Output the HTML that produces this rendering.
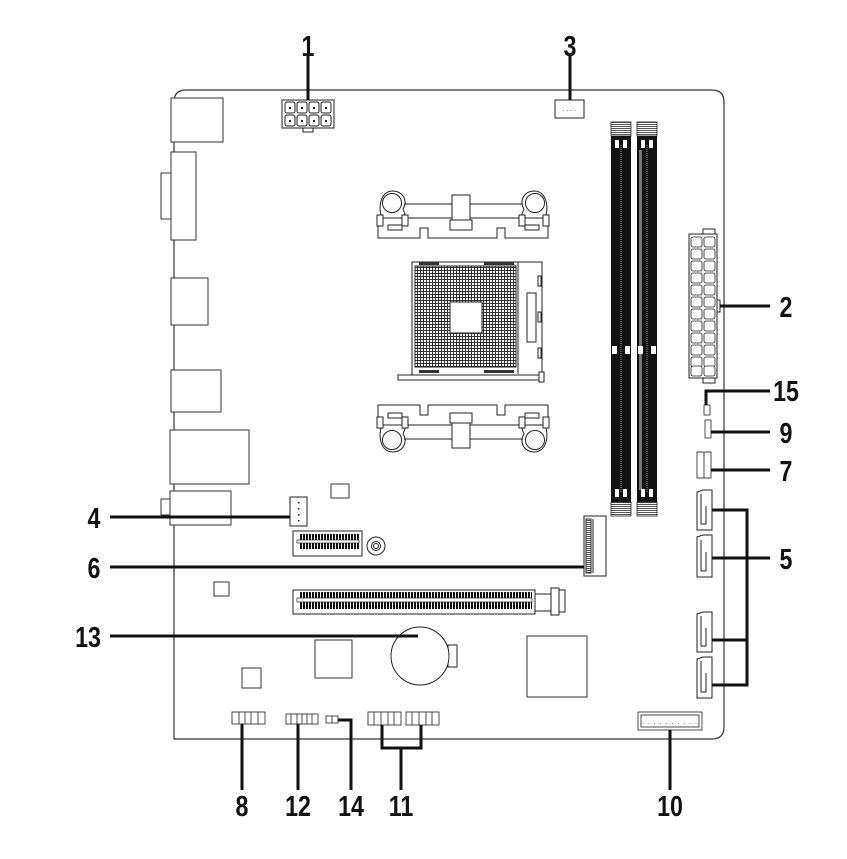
<!DOCTYPE html>
<html><head><meta charset="utf-8"><style>
html,body{margin:0;padding:0;background:#fff;}
svg{display:block}
.lb{font-family:"Liberation Sans",sans-serif;font-weight:bold;font-size:29px;fill:#111;}
</style></head><body>
<svg width="847" height="859" viewBox="0 0 847 859" xmlns="http://www.w3.org/2000/svg">
<defs>
<pattern id="grid" width="3" height="3" patternUnits="userSpaceOnUse">
<rect width="3" height="3" fill="#fff"/><rect width="3" height="0.9" fill="#222"/><rect width="0.9" height="3" fill="#222"/>
</pattern>
<pattern id="pins" width="3" height="4" patternUnits="userSpaceOnUse">
<rect width="3" height="4" fill="#fff"/><rect width="2" height="4" fill="#111"/>
</pattern>
<pattern id="hatch" width="3" height="2" patternUnits="userSpaceOnUse">
<rect width="3" height="2" fill="#fff"/><rect width="3" height="1" fill="#555"/>
</pattern>
<g id="bracket" fill="#fff" stroke="#222" stroke-width="1">
<path d="M378,238 V218 H548 V238 H505 V228 H497 V238 H428 V228 H420 V238 Z"/>
<path d="M382,218 C378,208 380,192 392,191 C404,191 408,202 403,209 L405,214 L402,218 Z"/>
<path d="M545,218 C549,208 547,192 535,191 C523,191 519,202 524,209 L522,214 L525,218 Z"/>
<circle cx="392" cy="203" r="9.5"/><circle cx="535" cy="203" r="9.5"/>
<line x1="404" y1="204" x2="523" y2="204"/>
<rect x="377" y="215" width="6" height="11"/><rect x="402" y="215" width="6" height="11"/>
<rect x="519" y="215" width="6" height="11"/><rect x="543" y="215" width="6" height="11"/>
<rect x="388" y="225" width="14" height="5"/><rect x="525" y="225" width="14" height="5"/>
<rect x="452" y="195" width="18" height="25"/>
<rect x="450" y="220" width="22" height="10"/>
</g>
</defs>

<!-- board outline -->
<path d="M174,739 V102 Q174,90 186,90 H712 Q724,90 724,102 V727 Q724,739 712,739 Z" fill="none" stroke="#333" stroke-width="1.2"/>

<g fill="#fff" stroke="#333" stroke-width="1">
<!-- IO -->
<rect x="171" y="98" width="52" height="44"/>
<rect x="161" y="173" width="10" height="46"/>
<rect x="171" y="152" width="25" height="88"/>
<rect x="171" y="278" width="37" height="47"/>
<rect x="171" y="370" width="50" height="42"/>
<rect x="170" y="430" width="79" height="54"/>
<rect x="161" y="499" width="10" height="16"/>
<rect x="170" y="491" width="61" height="34"/>
<!-- chips -->
<rect x="331" y="484" width="18" height="14"/>
<rect x="214" y="582" width="15" height="14"/>
<rect x="315" y="640" width="37" height="38"/>
<rect x="242" y="668" width="19" height="20"/>
<rect x="527" y="636" width="60" height="61"/>
</g>

<!-- 8 pin CPU power -->
<g stroke="#222" stroke-width="1" fill="#fff">
<rect x="282" y="100" width="52" height="28"/>
<rect x="303" y="128" width="10" height="4"/>
<g>
<rect x="285" y="102" width="10" height="11" rx="2"/><rect x="297" y="102" width="10" height="11" rx="2"/><rect x="309" y="102" width="10" height="11" rx="2"/><rect x="321" y="102" width="10" height="11" rx="2"/>
<rect x="285" y="115" width="10" height="11" rx="2"/><rect x="297" y="115" width="10" height="11" rx="2"/><rect x="309" y="115" width="10" height="11" rx="2"/><rect x="321" y="115" width="10" height="11" rx="2"/>
</g>
</g>
<g fill="#222"><rect x="289" y="107" width="2" height="2"/><rect x="301" y="107" width="2" height="2"/><rect x="313" y="107" width="2" height="2"/><rect x="325" y="107" width="2" height="2"/><rect x="289" y="120" width="2" height="2"/><rect x="301" y="120" width="2" height="2"/><rect x="313" y="120" width="2" height="2"/><rect x="325" y="120" width="2" height="2"/></g>

<!-- CPU fan -->
<rect x="555" y="100" width="29" height="18" fill="#fff" stroke="#222"/>
<text x="569" y="111" font-size="7" text-anchor="middle" fill="#222" font-family="Liberation Sans">. . . .</text>

<!-- brackets -->
<use href="#bracket"/>
<use href="#bracket" transform="translate(0,643) scale(1,-1)"/>

<!-- socket -->
<g stroke="#222" stroke-width="1">
<rect x="412" y="262" width="130" height="118" fill="#fff"/>
<line x1="518" y1="262" x2="518" y2="374"/>
<rect x="415" y="266" width="101" height="101" fill="url(#grid)"/>
<rect x="450" y="302" width="32" height="31" fill="#fff"/>
<rect x="527" y="293" width="9" height="49" fill="#fff"/>
<rect x="538" y="276" width="3" height="10" fill="#fff"/>
<rect x="538" y="312" width="3" height="10" fill="#fff"/>
<rect x="538" y="348" width="3" height="10" fill="#fff"/>
<rect x="398" y="375" width="144" height="5" fill="#fff"/>
<rect x="539" y="372" width="5" height="10" fill="#fff"/>
</g>
<g fill="#333"><rect x="419" y="262" width="20" height="3"/><rect x="484" y="262" width="30" height="3"/><rect x="419" y="370" width="20" height="3"/><rect x="484" y="370" width="30" height="3"/></g>

<!-- RAM -->
<g>
<rect x="611" y="122" width="20" height="14" fill="url(#hatch)" stroke="#222" stroke-width="0.8"/>
<rect x="637" y="122" width="20" height="14" fill="url(#hatch)" stroke="#222" stroke-width="0.8"/>
<rect x="611" y="502" width="20" height="14" fill="url(#hatch)" stroke="#222" stroke-width="0.8"/>
<rect x="637" y="502" width="20" height="14" fill="url(#hatch)" stroke="#222" stroke-width="0.8"/>
<rect x="611" y="136" width="20" height="366" fill="#111"/>
<rect x="637" y="136" width="20" height="366" fill="#111"/>
<line x1="621" y1="145" x2="621" y2="492" stroke="#888" stroke-width="1.2" stroke-dasharray="1,1"/>
<line x1="647" y1="145" x2="647" y2="492" stroke="#888" stroke-width="1.2" stroke-dasharray="1,1"/>
<rect x="639" y="150" width="3" height="340" fill="#777"/>
<g fill="#fff"><rect x="615" y="140" width="4" height="8"/><rect x="623" y="140" width="4" height="8"/><rect x="641" y="140" width="4" height="8"/><rect x="649" y="140" width="4" height="8"/>
<rect x="615" y="489" width="4" height="8"/><rect x="623" y="489" width="4" height="8"/><rect x="641" y="489" width="4" height="8"/><rect x="649" y="489" width="4" height="8"/>
<rect x="612" y="346" width="5" height="8"/><rect x="625" y="346" width="5" height="8"/><rect x="638" y="346" width="5" height="8"/><rect x="651" y="346" width="5" height="8"/></g>
</g>

<!-- 24 pin -->
<g stroke="#222" stroke-width="1" fill="#fff">
<rect x="703" y="229" width="12" height="5"/>
<rect x="703" y="377" width="12" height="6"/>
<rect x="689" y="234" width="28" height="144"/>
<rect x="717" y="300" width="3" height="12"/>
</g>
<g stroke="#222" stroke-width="0.8" fill="#fff" id="p24">
</g>
<g fill="#fff" stroke="#222" stroke-width="0.8">
<rect x="691" y="237" width="11" height="10" rx="2"/><rect x="704" y="237" width="11" height="10" rx="2"/>
<rect x="691" y="249" width="11" height="10" rx="2"/><rect x="704" y="249" width="11" height="10" rx="2"/>
<rect x="691" y="261" width="11" height="10" rx="2"/><rect x="704" y="261" width="11" height="10" rx="2"/>
<rect x="691" y="273" width="11" height="10" rx="2"/><rect x="704" y="273" width="11" height="10" rx="2"/>
<rect x="691" y="285" width="11" height="10" rx="2"/><rect x="704" y="285" width="11" height="10" rx="2"/>
<rect x="691" y="297" width="11" height="10" rx="2"/><rect x="704" y="297" width="11" height="10" rx="2"/>
<rect x="691" y="309" width="11" height="10" rx="2"/><rect x="704" y="309" width="11" height="10" rx="2"/>
<rect x="691" y="321" width="11" height="10" rx="2"/><rect x="704" y="321" width="11" height="10" rx="2"/>
<rect x="691" y="333" width="11" height="10" rx="2"/><rect x="704" y="333" width="11" height="10" rx="2"/>
<rect x="691" y="345" width="11" height="10" rx="2"/><rect x="704" y="345" width="11" height="10" rx="2"/>
<rect x="691" y="357" width="11" height="10" rx="2"/><rect x="704" y="357" width="11" height="10" rx="2"/>
<rect x="691" y="366" width="11" height="10" rx="2"/><rect x="704" y="366" width="11" height="10" rx="2"/>
</g>

<!-- small right headers -->
<g fill="#fff" stroke="#222" stroke-width="0.8">
<rect x="704" y="405" width="6" height="10"/>
<rect x="705" y="420" width="6" height="18"/>
<rect x="697" y="452" width="14" height="26"/>
<line x1="704" y1="452" x2="704" y2="478"/>
</g>

<!-- SATA -->
<g fill="#fff" stroke="#222" stroke-width="1">
<path d="M697,492 L703,490 H712 V530 H697 Z"/><path d="M701,494 V524 H706 V506"/>
<path d="M697,537 L703,535 H712 V577 H697 Z"/><path d="M701,540 V571 H706 V552"/>
<path d="M697,614 L703,612 H712 V652 H697 Z"/><path d="M701,616 V646 H706 V628"/>
<path d="M697,659 L703,657 H712 V698 H697 Z"/><path d="M701,661 V692 H706 V673"/>
</g>

<!-- M.2 -->
<g fill="#fff" stroke="#222" stroke-width="1">
<rect x="584" y="516" width="22" height="60"/>
<rect x="586" y="519" width="5" height="54" fill="url(#hatch)"/>
<line x1="593" y1="519" x2="593" y2="573"/>
</g>

<!-- CPU fan header left / sys fan -->
<rect x="290" y="497" width="17" height="29" fill="#fff" stroke="#222"/>
<g fill="#222"><rect x="298" y="502" width="1.5" height="1.5"/><rect x="298" y="508" width="1.5" height="1.5"/><rect x="298" y="514" width="1.5" height="1.5"/><rect x="298" y="520" width="1.5" height="1.5"/></g>

<!-- PCIe x1 -->
<rect x="293" y="531" width="69" height="25" fill="#fff" stroke="#222"/>
<rect x="300" y="534" width="60" height="15" fill="url(#pins)"/>
<rect x="297" y="540" width="62" height="3" fill="#fff" stroke="#222" stroke-width="0.7"/>
<circle cx="376" cy="546" r="9" fill="#fff" stroke="#222"/><circle cx="376" cy="546" r="4.5" fill="#fff" stroke="#222"/><circle cx="376" cy="546" r="2.5" fill="#fff" stroke="#222"/>

<!-- PCIe x16 -->
<rect x="293" y="590" width="242" height="24" fill="#fff" stroke="#222"/>
<rect x="300" y="592" width="232" height="17" fill="url(#pins)"/>
<rect x="297" y="598" width="235" height="4" fill="#fff" stroke="#222" stroke-width="0.7"/>
<g fill="#fff" stroke="#222" stroke-width="1">
<rect x="535" y="594" width="20" height="17"/>
<rect x="551" y="588" width="8" height="27"/>
<rect x="559" y="590" width="6" height="22"/>
</g>

<!-- battery -->
<rect x="448" y="645" width="9" height="22" fill="#fff" stroke="#222"/>
<circle cx="420" cy="656" r="29" fill="#fff" stroke="#222"/>

<!-- bottom headers -->
<g fill="#fff" stroke="#222" stroke-width="0.8">
<rect x="232" y="712" width="33" height="12"/>
<line x1="239" y1="712" x2="239" y2="724"/><line x1="245" y1="712" x2="245" y2="724"/><line x1="251" y1="712" x2="251" y2="724"/><line x1="258" y1="712" x2="258" y2="724"/>
<rect x="286" y="714" width="32" height="10"/>
<line x1="291" y1="714" x2="291" y2="724"/><line x1="297" y1="714" x2="297" y2="724"/><line x1="302" y1="714" x2="302" y2="724"/><line x1="307" y1="714" x2="307" y2="724"/><line x1="312" y1="714" x2="312" y2="724"/>
<rect x="326" y="716" width="12" height="7"/><line x1="332" y1="716" x2="332" y2="723"/>
<rect x="368" y="712" width="33" height="13"/>
<line x1="374" y1="712" x2="374" y2="725"/><line x1="381" y1="712" x2="381" y2="725"/><line x1="388" y1="712" x2="388" y2="725"/><line x1="394" y1="712" x2="394" y2="725"/>
<rect x="406" y="712" width="33" height="13"/>
<line x1="412" y1="712" x2="412" y2="725"/><line x1="419" y1="712" x2="419" y2="725"/><line x1="426" y1="712" x2="426" y2="725"/><line x1="432" y1="712" x2="432" y2="725"/>
<rect x="638" y="712" width="64" height="18"/>
<rect x="641" y="715" width="58" height="12"/>
</g>
<text x="670" y="724" font-size="7" text-anchor="middle" fill="#333" font-family="Liberation Sans" letter-spacing="1">. . . . . . . . . .</text>

<!-- leader lines -->
<g stroke="#111" stroke-width="3" fill="none">
<line x1="308" y1="56" x2="308" y2="100"/>
<line x1="570" y1="56" x2="570" y2="100"/>
<line x1="720" y1="306" x2="770" y2="306"/>
<polyline points="706,405 706,391 770,391"/>
<line x1="711" y1="432" x2="770" y2="432"/>
<line x1="711" y1="470" x2="770" y2="470"/>
<polyline points="712,510 747,510 747,685 712,685"/>
<line x1="712" y1="558" x2="770" y2="558"/>
<line x1="712" y1="640" x2="747" y2="640"/>
<line x1="110" y1="517" x2="290" y2="517"/>
<line x1="110" y1="567" x2="584" y2="567"/>
<line x1="110" y1="636" x2="418" y2="636"/>
<line x1="242" y1="724" x2="242" y2="790"/>
<line x1="298" y1="724" x2="298" y2="790"/>
<polyline points="338,720 351,720 351,790"/>
<polyline points="382,725 382,748 421,748 421,725"/>
<line x1="401" y1="748" x2="401" y2="790"/>
<line x1="670" y1="730" x2="670" y2="790"/>
</g>

<!-- labels -->
<g class="lb" text-anchor="middle">
<text transform="translate(308,56) scale(0.8,1)">1</text>
<text transform="translate(570,56) scale(0.8,1)">3</text>
<text transform="translate(786,317) scale(0.8,1)">2</text>
<text transform="translate(786,401) scale(0.8,1)">15</text>
<text transform="translate(786,443) scale(0.8,1)">9</text>
<text transform="translate(786,481) scale(0.8,1)">7</text>
<text transform="translate(786,569) scale(0.8,1)">5</text>
<text transform="translate(94,528) scale(0.8,1)">4</text>
<text transform="translate(94,578) scale(0.8,1)">6</text>
<text transform="translate(88,647) scale(0.8,1)">13</text>
<text transform="translate(242,816) scale(0.8,1)">8</text>
<text transform="translate(298,816) scale(0.8,1)">12</text>
<text transform="translate(351,816) scale(0.8,1)">14</text>
<text transform="translate(401,816) scale(0.8,1)">11</text>
<text transform="translate(670,816) scale(0.8,1)">10</text>
</g>
</svg>
</body></html>
